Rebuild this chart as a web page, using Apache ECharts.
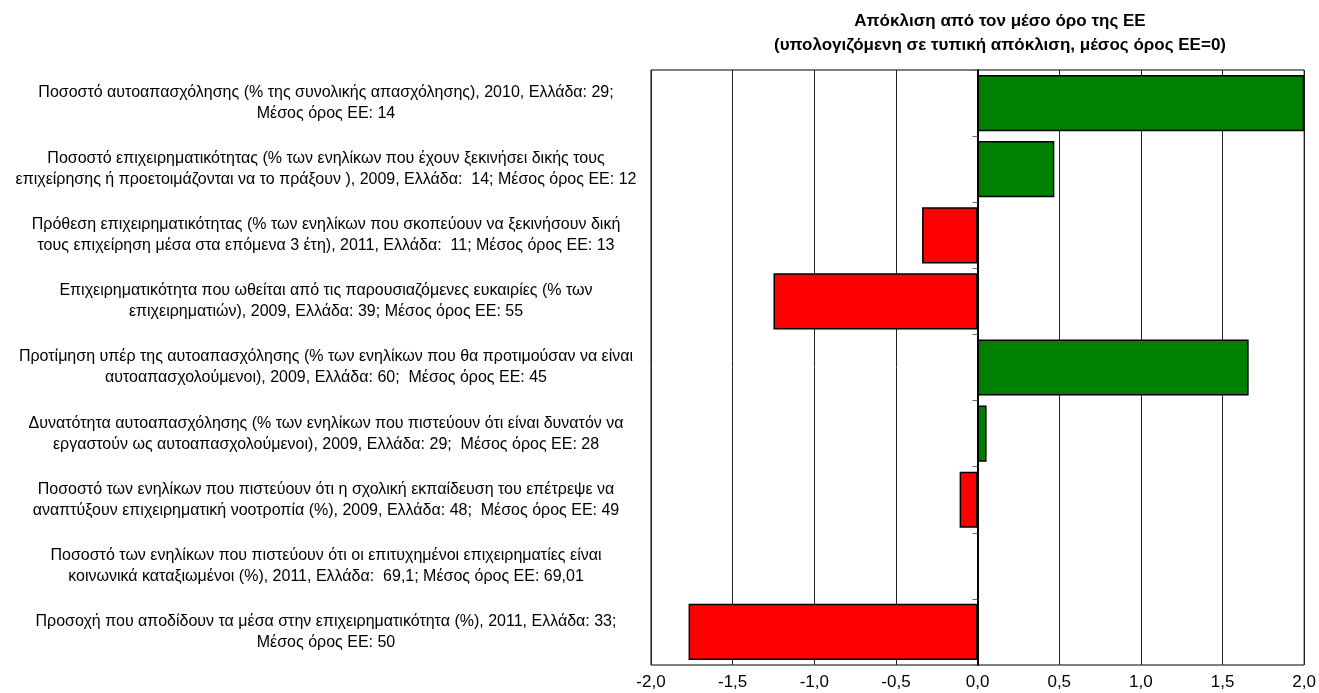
<!DOCTYPE html>
<html>
<head>
<meta charset="utf-8">
<script src="https://cdn.jsdelivr.net/npm/echarts@6/dist/echarts.min.js"></script>
<style>
  html, body { margin: 0; padding: 0; background: #fff; }
  #chart { width: 1319px; height: 693px; }
</style>
</head>
<body>
<div id="chart"></div>
<script>
// deviation from EU average, in standard deviations
const categories = [
  'Ποσοστό αυτοαπασχόλησης (% της συνολικής απασχόλησης), 2010, Ελλάδα: 29;\nΜέσος όρος ΕΕ: 14',
  'Ποσοστό επιχειρηματικότητας (% των ενηλίκων που έχουν ξεκινήσει δικής τους\nεπιχείρησης ή προετοιμάζονται να το πράξουν ), 2009, Ελλάδα:  14; Μέσος όρος ΕΕ: 12',
  'Πρόθεση επιχειρηματικότητας (% των ενηλίκων που σκοπεύουν να ξεκινήσουν δική\nτους επιχείρηση μέσα στα επόμενα 3 έτη), 2011, Ελλάδα:  11; Μέσος όρος ΕΕ: 13',
  'Επιχειρηματικότητα που ωθείται από τις παρουσιαζόμενες ευκαιρίες (% των\nεπιχειρηματιών), 2009, Ελλάδα: 39; Μέσος όρος ΕΕ: 55',
  'Προτίμηση υπέρ της αυτοαπασχόλησης (% των ενηλίκων που θα προτιμούσαν να είναι\nαυτοαπασχολούμενοι), 2009, Ελλάδα: 60;  Μέσος όρος ΕΕ: 45',
  'Δυνατότητα αυτοαπασχόλησης (% των ενηλίκων που πιστεύουν ότι είναι δυνατόν να\nεργαστούν ως αυτοαπασχολούμενοι), 2009, Ελλάδα: 29;  Μέσος όρος ΕΕ: 28',
  'Ποσοστό των ενηλίκων που πιστεύουν ότι η σχολική εκπαίδευση του επέτρεψε να\nαναπτύξουν επιχειρηματική νοοτροπία (%), 2009, Ελλάδα: 48;  Μέσος όρος ΕΕ: 49',
  'Ποσοστό των ενηλίκων που πιστεύουν ότι οι επιτυχημένοι επιχειρηματίες είναι\nκοινωνικά καταξιωμένοι (%), 2011, Ελλάδα:  69,1; Μέσος όρος ΕΕ: 69,01',
  'Προσοχή που αποδίδουν τα μέσα στην επιχειρηματικότητα (%), 2011, Ελλάδα: 33;\nΜέσος όρος ΕΕ: 50'
];
const deviation = [2.0, 0.47, -0.34, -1.25, 1.66, 0.055, -0.11, 0.008, -1.77];
const xTicks = { min: -2, max: 2, step: 0.5 };

const chart = echarts.init(document.getElementById('chart'));

chart.setOption({
  animation: false,
  title: {
    text: 'Απόκλιση από τον μέσο όρο της ΕΕ\n(υπολογιζόμενη σε τυπική απόκλιση, μέσος όρος ΕΕ=0)',
    left: 995,
    top: 4,
    textAlign: 'center',
    textStyle: {
      fontFamily: '"Liberation Sans Narrow", "Arial Narrow", "Liberation Sans", sans-serif',
      fontSize: 17,
      fontWeight: 'bold',
      lineHeight: 24,
      color: '#000'
    }
  },
  grid: {
    left: 651,
    right: 14,
    top: 70,
    bottom: 28,
    show: true,
    borderColor: '#000',
    borderWidth: 1
  },
  xAxis: {
    type: 'value',
    min: xTicks.min,
    max: xTicks.max,
    interval: xTicks.step,
    axisLine: { show: false },
    axisTick: { show: false },
    splitLine: { show: true, lineStyle: { color: '#222', width: 1 } },
    axisLabel: {
      margin: 9,
      fontFamily: '"Liberation Sans Narrow", "Arial Narrow", "Liberation Sans", sans-serif',
      fontSize: 17,
      color: '#000',
      formatter: v => v.toFixed(1).replace('.', ',')
    }
  },
  yAxis: [
    {
      type: 'category',
      data: categories,
      inverse: true,
      position: 'left',
      axisLine: { show: false, onZero: false },
      axisTick: { show: false },
      axisLabel: {
        margin: 10,
        align: 'right',
        formatter: v => v.split('\n').map(s => '{a|' + s + '}').join('\n'),
        rich: {
          a: {
            width: 630,
            align: 'center',
            fontFamily: '"Liberation Sans", Arial, sans-serif',
            fontSize: 16,
            lineHeight: 21,
            color: '#000'
          }
        }
      }
    },
    {
      type: 'category',
      data: categories,
      inverse: true,
      position: 'left',
      axisLine: { show: true, onZero: true, lineStyle: { color: '#000', width: 2 } },
      axisTick: { show: true, length: 5, lineStyle: { color: '#666' } },
      axisLabel: { show: false }
    }
  ],
  series: [{
    type: 'bar',
    yAxisIndex: 0,
    barCategoryGap: '15%',
    data: deviation.map(v => ({
      value: v,
      itemStyle: { color: v >= 0 ? '#008000' : '#ff0000' }
    })),
    itemStyle: { borderColor: '#000', borderWidth: 1.5 }
  }]
});
</script>
</body>
</html>
